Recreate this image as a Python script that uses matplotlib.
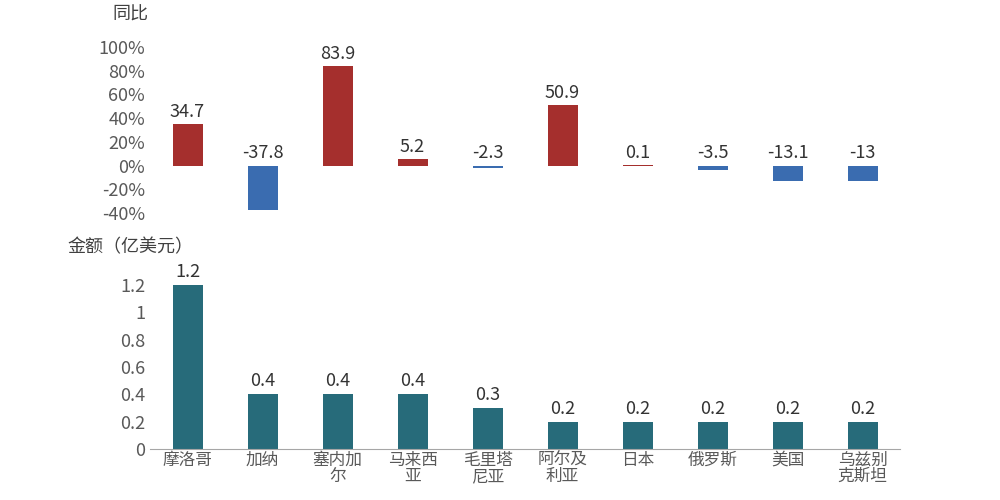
import matplotlib
matplotlib.use("Agg")
import matplotlib.pyplot as plt

plt.rcParams['font.family'] = ['Noto Sans CJK SC', 'DejaVu Sans']

countries = ["摩洛哥", "加纳", "塞内加\n尔", "马来西\n亚", "毛里塔\n尼亚", "阿尔及\n利亚", "日本", "俄罗斯", "美国", "乌兹别\n克斯坦"]
yoy = [34.7, -37.8, 83.9, 5.2, -2.3, 50.9, 0.1, -3.5, -13.1, -13]
yoy_labels = ["34.7", "-37.8", "83.9", "5.2", "-2.3", "50.9", "0.1", "-3.5", "-13.1", "-13"]
amount = [1.2, 0.4, 0.4, 0.4, 0.3, 0.2, 0.2, 0.2, 0.2, 0.2]
amount_labels = ["1.2", "0.4", "0.4", "0.4", "0.3", "0.2", "0.2", "0.2", "0.2", "0.2"]

RED = "#A52F2D"
BLUE = "#3A6CB0"
TEAL = "#276B7A"
TICK = "#595959"

fig = plt.figure(figsize=(10, 5), dpi=100)

# --- 同比 ---
ax1 = fig.add_axes([0.15, 0.574, 0.75, 0.332])
x = list(range(len(countries)))
colors = [RED if v >= 0 else BLUE for v in yoy]
ax1.bar(x, yoy, width=0.4, color=colors)
for xi, v, lab in zip(x, yoy, yoy_labels):
    ypos = v + 3 if v >= 0 else 3
    ax1.text(xi, ypos, lab, ha="center", va="bottom", fontsize=13, color="#333333")
ax1.set_xlim(-0.5, 9.5)
ax1.set_ylim(-40, 100)
ax1.set_yticks(range(-40, 101, 20))
ax1.set_yticklabels([f"{t}%" for t in range(-40, 101, 20)])
ax1.set_xticks([])
for s in ax1.spines.values():
    s.set_visible(False)
ax1.tick_params(axis="y", length=0, labelsize=13, labelcolor=TICK)
fig.text(0.13, 0.97, "同比", fontsize=13, color="#404040", ha="center", va="center")

# --- 金额 ---
ax2 = fig.add_axes([0.15, 0.102, 0.75, 0.328])
ax2.bar(x, amount, width=0.4, color=TEAL)
for xi, v, lab in zip(x, amount, amount_labels):
    ax2.text(xi, v + 0.03, lab, ha="center", va="bottom", fontsize=13, color="#333333")
ax2.set_xlim(-0.5, 9.5)
ax2.set_ylim(0, 1.2)
ax2.set_yticks([0, 0.2, 0.4, 0.6, 0.8, 1.0, 1.2])
ax2.set_yticklabels(["0", "0.2", "0.4", "0.6", "0.8", "1", "1.2"])
ax2.set_xticks(x)
ax2.set_xticklabels(countries, linespacing=0.95)
for s in ["top", "right", "left"]:
    ax2.spines[s].set_visible(False)
ax2.spines["bottom"].set_color("#A6A6A6")
ax2.tick_params(axis="y", length=0, labelsize=13, labelcolor=TICK)
ax2.tick_params(axis="x", length=0, labelsize=12, labelcolor=TICK, pad=2)
fig.text(0.13, 0.505, "金额（亿美元）", fontsize=13, color="#404040", ha="center", va="center")

fig.savefig("out.png")
